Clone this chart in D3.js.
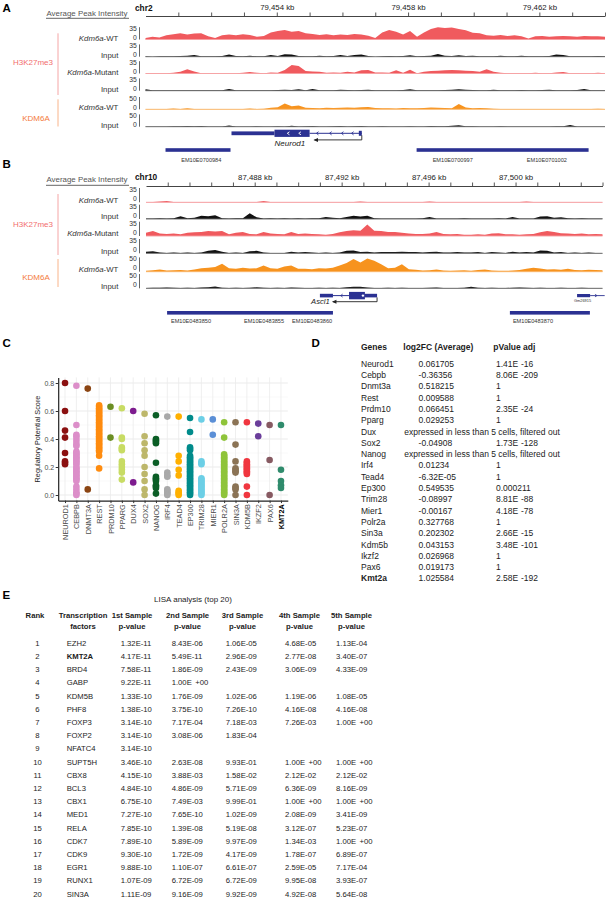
<!DOCTYPE html>
<html><head><meta charset="utf-8">
<script src="https://cdn.jsdelivr.net/npm/d3@7"></script>
<style>
html,body{margin:0;padding:0;background:#fff;}
svg{display:block;font-family:"Liberation Sans",Arial,Helvetica,sans-serif;}
</style></head><body>
<svg id="fig" width="609" height="900"></svg>
<script>
// ================= DATA =================
// ---- Panel A: Neurod1 locus, chr2 (kb) ----
const aDomainKb = [79450, 79464];
const aTickKb = [79451,79452,79453,79454,79455,79456,79457,79458,79459,79460,79461,79462,79463,79464];
const aTickLabelKb = [79454, 79458, 79462];
const aWT_H3K27me3 = [4,8,6,12,15,18,14,17,18,9, 4,12,14,12,15,13,8,10,20,24, 27,22,24,18,16,13,15,12,14,13, 16,14,11,4,20,27,22,14,24,8, 20,30,35,33,34,30,26,19,18,12, 11,13,10,12,9,3,9,10,8,9, 10,9,8,10,9,9,8];
const aWT_Input = [1,0,1,1,1,2,3,5,1,1, 1,2,6,2,1,3,1,1,5,2, 7,6,2,1,1,3,1,2,5,2, 5,6,2,0,1,2,1,2,4,1, 2,3,8,3,2,4,2,3,1,1, 1,3,1,1,3,1,1,1,2,6, 5,1,1,1,1,2,1];
const aMut_H3K27me3 = [1,1,1,1,2,5,12,6,1,1, 1,1,1,1,2,4,2,1,3,2, 10,24,21,7,6,5,2,3,2,5, 3,9,10,3,3,2,9,2,11,1, 5,7,8,9,10,9,8,7,5,12, 5,2,1,1,1,1,2,1,1,3, 4,1,1,1,1,2,1];
const aMut_Input = [4,1,1,1,1,1,1,1,1,1, 1,1,5,1,1,1,1,1,1,2, 3,2,4,1,5,1,1,1,3,2, 1,2,3,1,1,1,1,2,4,1, 1,1,1,2,3,4,3,2,1,1, 3,1,1,1,2,1,1,2,3,1, 1,1,2,5,1,1,1];
const aWT_KDM6A = [1,1,1,1,3,1,4,1,1,1, 1,1,1,1,1,3,1,2,6,8, 24,12,15,6,5,4,6,5,6,7, 6,8,9,5,4,4,3,5,4,4, 5,7,6,5,4,22,7,4,5,4, 2,1,1,1,1,1,1,1,1,1, 1,1,1,1,1,2,1];
const aKDM6A_Input = [1,1,1,1,2,2,3,2,3,1, 1,1,5,1,1,1,2,1,1,2, 1,4,1,2,3,1,1,2,3,1, 2,3,1,1,2,1,1,1,2,1, 1,3,2,2,4,6,2,2,1,1, 1,2,1,1,1,1,1,1,1,2, 2,7,1,1,1,1,1];
const aEnhancersKb = [[79450.61, 79452.59], [79458.26, 79463.5]];
const aEnhancerLabels = ["EM10E0700984", "EM10E0700997", "EM10E0701002"];
const aEnhancerLabelKb = [79451.7, 79459.36, 79462.23];

// ---- Panel B: Ascl1 locus, chr10 (kb) ----
const bDomainKb = [87483, 87504];
const bTickKb = [87484,87485,87486,87487,87488,87489,87490,87491,87492,87493,87494,87495,87496,87497,87498,87499,87500,87501,87502,87503,87504];
const bTickLabelKb = [87488, 87492, 87496, 87500];
const bWT_H3K27me3 = [0.6,0.6,2,3,0.6,0.6,0.6,0.6,0.6,0.6, 0.6,0.6,0.6,0.6,0.6,0.6,0.6,3,0.6,0.6, 0.6,0.6,0.6,0.6,0.6,0.6,0.6,0.6,0.6,0.6, 0.6,2,0.6,0.6,0.6,0.6,0.6,0.6,0.6,0.6, 0.6,2,0.6,0.6,0.6,0.6,0.6,0.6,0.6,0.6, 0.6,0.6,0.6,0.6,0.6,2,0.6,0.6,0.6,0.6, 0.6,0.6,0.6,0.6,0.6,0.6,0.6];
const bWT_Input = [1,1,2,1,2,7,2,3,8,7, 9,2,1,2,2,14,4,1,2,1, 2,1,2,1,2,2,5,3,2,5, 8,6,8,2,1,1,1,1,1,1, 2,5,1,1,1,1,2,1,1,1, 1,2,1,5,1,1,1,6,7,3, 4,2,1,2,1,1,1];
const bMut_H3K27me3 = [8,12,6,5,6,4,8,9,10,12, 11,12,4,8,10,5,4,10,6,5, 4,10,5,6,5,4,3,5,9,12, 14,13,28,13,12,10,10,8,6,5, 5,6,10,5,4,5,3,3,4,3, 6,7,4,4,3,4,5,9,12,10, 7,6,5,6,4,5,4];
const bMut_Input = [4,5,2,1,2,1,2,1,2,6, 8,4,1,2,1,5,6,2,1,1, 1,4,2,3,2,1,2,1,2,6, 7,3,4,2,3,3,3,4,3,3, 2,3,4,2,2,3,2,2,3,1, 3,2,1,4,2,3,2,7,6,2, 3,1,2,1,2,1,1];
const bWT_KDM6A = [3,5,8,4,5,6,4,8,12,14, 16,28,12,10,14,11,12,22,12,10, 18,22,10,10,9,12,11,14,22,30, 44,32,46,38,26,12,14,26,9,7, 4,5,8,4,3,4,5,3,6,8, 4,3,3,4,6,10,14,11,8,9, 7,10,6,5,7,6,5];
const bKDM6A_Input = [1,2,2,3,2,1,2,1,3,4, 6,2,1,2,1,2,4,2,1,2, 1,3,2,1,1,2,1,2,1,4, 5,5,3,1,1,2,1,2,1,1, 1,2,3,1,1,1,2,5,2,1, 2,1,1,2,3,2,1,2,1,1, 2,1,1,2,1,1,1];
const bEnhancersKb = [[87483.97, 87491.6], [87499.74, 87503.42]];
const bEnhancerLabels = ["EM10E0483850", "EM10E0483855", "EM10E0483860", "EM10E0483870"];
const bEnhancerLabelKb = [87485.07, 87488.43, 87490.64, 87500.8];

const trackLabels = [["Kdm6a","-WT"],["","Input"],["Kdm6a","-Mutant"],["","Input"],["Kdm6a","-WT"],["","Input"]];
const trackScaleMax = [35, 35, 35, 35, 50, 50];

// ---- Panel C: regulatory potential scores ----
const tfNames = ["NEUROD1","CEBPB","DNMT3A","REST","PRDM10","PPARG","DUX4","SOX2","NANOG","IRF4","TEAD4","EP300","TRIM28","MIER1","POLR2A","SIN3A","KDM5B","IKZF2","PAX6","KMT2A"];
const rpNEUROD1 = [0.80,0.60,0.46,0.41,0.30,0.24,0.23,0.22];
const rpCEBPB = [0.78,0.50,0.43,0.42,0.40,0.38,0.36,0.35,0.31,0.30,0.29,0.28,0.27,0.26,0.25,0.24,0.23,0.22,0.20,0.19,0.18,0.17,0.16,0.15,0.14,0.13,0.12,0.11,0.10,0.06,0.04,0.02,0.01,0.00];
const rpDNMT3A = [0.76,0.04];
const rpREST = [0.64,0.63,0.62,0.61,0.60,0.59,0.58,0.57,0.56,0.55,0.54,0.53,0.52,0.51,0.50,0.49,0.48,0.47,0.46,0.45,0.44,0.43,0.42,0.41,0.40,0.39,0.38,0.37,0.36,0.35,0.34,0.33,0.32,0.31,0.28,0.19];
const rpPRDM10 = [0.63,0.41];
const rpPPARG = [0.62,0.41,0.40,0.34,0.33,0.32,0.24,0.22,0.20,0.18,0.16,0.11];
const rpDUX4 = [0.60,0.09];
const rpSOX2 = [0.58,0.42,0.37,0.32,0.28,0.20,0.15,0.10,0.04,0.00];
const rpNANOG = [0.57,0.40,0.39,0.38,0.37,0.23,0.13,0.12,0.11,0.10,0.07,0.06,0.05,0.01];
const rpIRF4 = [0.56,0.16,0.14,0.13,0.04,0.03,0.02,0.01,0.00];
const rpTEAD4 = [0.56,0.28,0.24,0.18,0.14,0.03,0.02,0.01,0.00];
const rpEP300 = [0.55,0.45,0.34,0.33,0.32,0.28,0.27,0.26,0.25,0.24,0.23,0.22,0.21,0.20,0.19,0.18,0.17,0.16,0.15,0.14,0.13,0.12,0.11,0.10,0.09,0.08,0.07,0.06,0.05,0.04,0.03,0.02,0.01,0.00];
const rpTRIM28 = [0.54,0.24,0.23,0.22,0.12,0.11,0.10,0.09,0.08,0.07,0.06,0.05,0.04,0.03,0.02,0.01,0.00];
const rpMIER1 = [0.54,0.43];
const rpPOLR2A = [0.52,0.41,0.29,0.28,0.27,0.26,0.25,0.24,0.23,0.22,0.21,0.20,0.19,0.18,0.17,0.16,0.15,0.14,0.13,0.12,0.11,0.10,0.09,0.08,0.07,0.06,0.05,0.04,0.03,0.02,0.01,0.00];
const rpSIN3A = [0.52,0.36,0.24,0.19,0.18,0.17,0.16,0.06,0.05,0.04,0.00];
const rpKDM5B = [0.52,0.24,0.23,0.22,0.21,0.20,0.19,0.18,0.17,0.16,0.15,0.06,0.00];
const rpIKZF2 = [0.51,0.42];
const rpPAX6 = [0.50,0.25,0.00];
const rpKMT2A = [0.50,0.18,0.10,0.07,0.05];
const tfScores = [rpNEUROD1,rpCEBPB,rpDNMT3A,rpREST,rpPRDM10,rpPPARG,rpDUX4,rpSOX2,rpNANOG,rpIRF4,rpTEAD4,rpEP300,rpTRIM28,rpMIER1,rpPOLR2A,rpSIN3A,rpKDM5B,rpIKZF2,rpPAX6,rpKMT2A];
const tfColors = ["#8b1010","#dc8ec9","#8b4513","#ff8c0f","#6b8e23","#c8dc64","#7d1b8e","#bdb76b","#0b5e26","#a9a9a9","#ffb000","#008b8b","#6ccfe6","#5b8fd6","#8fc43a","#8b7355","#f0363f","#6a3d9a","#875a62","#2f8b6c"];
const cYTicks = [0.0, 0.2, 0.4, 0.6, 0.8];

// ---- Panel D: differential expression ----
const dHeaders = ["Genes", "log2FC (Average)", "pValue adj"];
const dGenes = ["Neurod1","Cebpb","Dnmt3a","Rest","Prdm10","Pparg","Dux","Sox2","Nanog","Irf4","Tead4","Ep300","Trim28","Mier1","Polr2a","Sin3a","Kdm5b","Ikzf2","Pax6","Kmt2a"];
const dLog2FC = ["0.061705","-0.36356","0.518215","0.009588","0.066451","0.029253","expressed in less than 5 cells, filtered out","-0.04908","expressed in less than 5 cells, filtered out","0.01234","-6.32E-05","0.549535","-0.08997","-0.00167","0.327768","0.202302","0.043153","0.026968","0.019173","1.025584"];
const dPvalAdj = ["1.41E -16","8.06E -209","1","1","2.35E -24","1","","1.73E -128","","1","1","0.000211","8.81E -88","4.18E -78","1","2.66E -15","3.48E -101","1","1","2.58E -192"];

// ---- Panel E: LISA analysis ----
const eHeader1 = ["Rank","Transcription","1st Sample","2nd Sample","3rd Sample","4th Sample","5th Sample"];
const eHeader2 = ["","factors","p-value","p-value","p-value","p-value","p-value"];
const eTF = ["EZH2","KMT2A","BRD4","GABP","KDM5B","PHF8","FOXP3","FOXP2","NFATC4","SUPT5H","CBX8","BCL3","CBX1","MED1","RELA","CDK7","CDK9","EGR1","RUNX1","SIN3A"];
const eP1 = ["1.32E-11","4.17E-11","7.58E-11","9.22E-11","1.33E-10","1.38E-10","3.14E-10","3.14E-10","3.14E-10","3.46E-10","4.15E-10","4.84E-10","6.75E-10","7.27E-10","7.85E-10","7.89E-10","9.30E-10","9.88E-10","1.07E-09","1.11E-09"];
const eP2 = ["8.43E-06","5.49E-11","1.86E-09","1.00E +00","1.76E-09","3.75E-10","7.17E-04","3.08E-06","","2.63E-08","3.88E-03","4.86E-09","7.49E-03","7.65E-10","1.39E-08","5.89E-09","1.72E-09","1.10E-07","6.72E-09","9.16E-09"];
const eP3 = ["1.06E-05","2.96E-09","2.43E-09","","1.02E-06","7.26E-10","7.18E-03","1.83E-04","","9.93E-01","1.58E-02","5.71E-09","9.99E-01","1.02E-09","5.19E-08","9.97E-09","4.17E-09","6.61E-07","6.72E-09","9.92E-09"];
const eP4 = ["4.68E-05","2.77E-08","3.06E-09","","1.19E-06","4.16E-08","7.26E-03","","","1.00E +00","2.12E-02","6.36E-09","1.00E +00","2.08E-09","3.12E-07","1.34E-03","1.78E-07","2.59E-05","9.95E-08","4.92E-08"];
const eP5 = ["1.13E-04","3.40E-07","4.33E-09","","1.08E-05","4.16E-08","1.00E +00","","","1.00E +00","2.12E-02","8.16E-09","1.00E +00","3.41E-09","5.23E-07","1.00E +00","6.89E-07","7.17E-04","3.93E-07","5.64E-08"];

// ================= DRAWING =================
const svg = d3.select("#fig");
const INK = "#1c1c1c";
const RED = "#f05a5e", RED_LIGHT = "#f59ea0";
const ORANGE = "#f7931e", ORANGE_LIGHT = "#f8b66a";
const BLACK = "#111111";
const NAVY = "#2b3192";

function panelLabel(t, x, y) {
  svg.append("text").attr("x", x).attr("y", y).attr("font-size", 11.5)
    .attr("font-weight", "bold").attr("fill", "#000").text(t);
}

function genomePanel(cfg) {
  const g = svg.append("g");
  const x = d3.scaleLinear().domain(cfg.domain).range(cfg.range);
  g.append("text").attr("x", 46.5).attr("y", cfg.apiY).attr("font-size", 7.9).attr("fill", "#555")
    .text("Average Peak Intensity");
  g.append("line").attr("x1", 46).attr("x2", 129).attr("y1", cfg.apiLineY).attr("y2", cfg.apiLineY)
    .attr("stroke", "#555").attr("stroke-width", 0.9);
  g.append("text").attr("x", 135).attr("y", cfg.chrY).attr("font-size", 8.3).attr("font-weight", "bold")
    .attr("fill", "#111").text(cfg.chr);
  const ax = d3.axisTop(x).tickValues(cfg.ticks).tickSize(3.5).tickSizeOuter(0).tickPadding(2.2)
    .tickFormat(d => cfg.tickLabels.includes(d) ? d3.format(",")(d) + " kb" : "");
  const axG = g.append("g").attr("transform", `translate(0,${cfg.rulerY})`).call(ax);
  axG.select(".domain").attr("stroke", "#444").attr("stroke-width", 1.1);
  axG.selectAll(".tick line").attr("stroke", "#444").attr("stroke-width", 0.9);
  axG.selectAll(".tick text").attr("font-size", 7.8).attr("fill", "#222")
    .attr("font-family", '"Liberation Sans",Arial,sans-serif');
  cfg.tracks.forEach((t, k) => {
    const n = t.values.length;
    const step = (cfg.domain[1] - cfg.domain[0]) / (n - 1);
    const y = d3.scaleLinear().domain([0, trackScaleMax[k]]).range([t.base, t.base - cfg.h]);
    const area = d3.area().x((d, i) => x(cfg.domain[0] + i * step)).y0(t.base).y1(d => y(d));
    g.append("path").datum(t.values).attr("d", area).attr("fill", t.color);
    g.append("line").attr("x1", cfg.range[0]).attr("x2", cfg.range[1]).attr("y1", t.base).attr("y2", t.base)
      .attr("stroke", t.baseColor).attr("stroke-width", 0.9);
    g.append("line").attr("x1", 139.5).attr("x2", 139.5).attr("y1", t.base - cfg.h).attr("y2", t.base)
      .attr("stroke", "#666").attr("stroke-width", 1);
    g.append("text").attr("x", 136.8).attr("y", t.base - cfg.h + 3.9).attr("font-size", 6.8)
      .attr("text-anchor", "end").attr("fill", "#333").text(trackScaleMax[k]);
    g.append("text").attr("x", 136.8).attr("y", t.base + cfg.zeroDy).attr("font-size", 6.8)
      .attr("text-anchor", "end").attr("fill", "#333").text("0");
    const lab = g.append("text").attr("x", 118.3).attr("y", t.base + cfg.labelDy).attr("font-size", 7.8)
      .attr("text-anchor", "end").attr("fill", "#333");
    if (trackLabels[k][0]) lab.append("tspan").attr("font-style", "italic").text(trackLabels[k][0]);
    lab.append("tspan").text(trackLabels[k][1]);
  });
  g.append("text").attr("x", 33).attr("y", cfg.h3Y).attr("font-size", 8).attr("text-anchor", "middle")
    .attr("fill", "#f26d6d").text("H3K27me3");
  g.append("line").attr("x1", 58).attr("x2", 58).attr("y1", cfg.h3Br[0]).attr("y2", cfg.h3Br[1])
    .attr("stroke", "#f5a6a6").attr("stroke-width", 1);
  g.append("text").attr("x", 36).attr("y", cfg.kdY).attr("font-size", 8).attr("text-anchor", "middle")
    .attr("fill", "#f47a3c").text("KDM6A");
  g.append("line").attr("x1", 58).attr("x2", 58).attr("y1", cfg.kdBr[0]).attr("y2", cfg.kdBr[1])
    .attr("stroke", "#f9b48a").attr("stroke-width", 1);
  cfg.enh.forEach(e => {
    g.append("rect").attr("x", x(e[0])).attr("width", x(e[1]) - x(e[0])).attr("y", cfg.enhY).attr("height", 3.6)
      .attr("fill", NAVY);
  });
  cfg.enhLabels.forEach((l, i) => {
    g.append("text").attr("x", x(cfg.enhLabelKb[i])).attr("y", cfg.enhLabelY).attr("font-size", 5.6)
      .attr("text-anchor", "middle").attr("fill", "#333").text(l);
  });
  return { g, x };
}

// ---------- Panel A ----------
panelLabel("A", 2.5, 11.8);
const A = genomePanel({
  domain: aDomainKb, range: [145.5, 605], ticks: aTickKb, tickLabels: aTickLabelKb,
  chr: "chr2", chrY: 10.8, rulerY: 16, apiY: 15.6, apiLineY: 18.3, h: 12.3, labelDy: 1.0, zeroDy: 0.6,
  tracks: [
    { values: aWT_H3K27me3, base: 39.5, color: RED, baseColor: RED_LIGHT },
    { values: aWT_Input, base: 56.7, color: BLACK, baseColor: "#666" },
    { values: aMut_H3K27me3, base: 73.5, color: RED, baseColor: RED_LIGHT },
    { values: aMut_Input, base: 90.7, color: BLACK, baseColor: "#666" },
    { values: aWT_KDM6A, base: 109.3, color: ORANGE, baseColor: ORANGE_LIGHT },
    { values: aKDM6A_Input, base: 126.7, color: BLACK, baseColor: "#666" }
  ],
  h3Y: 65, h3Br: [33.3, 95], kdY: 121, kdBr: [99.3, 126.5],
  enh: aEnhancersKb, enhY: 148.2, enhLabels: aEnhancerLabels, enhLabelKb: aEnhancerLabelKb, enhLabelY: 161.5
});
(function () {
  const g = A.g, x = A.x, yc = 133.3;
  g.append("rect").attr("x", x(79452.62)).attr("width", x(79453.93) - x(79452.62)).attr("y", yc - 1.9).attr("height", 3.8).attr("fill", NAVY);
  g.append("rect").attr("x", x(79453.93)).attr("width", x(79455.0) - x(79453.93)).attr("y", yc - 3.6).attr("height", 7.2).attr("fill", NAVY);
  g.append("line").attr("x1", x(79455.0)).attr("x2", x(79456.59)).attr("y1", yc).attr("y2", yc).attr("stroke", NAVY).attr("stroke-width", 1);
  [79455.24, 79455.64, 79456.0, 79456.31].forEach(k => {
    g.append("path").attr("d", `M${x(k) + 1},${yc - 1.6}L${x(k) - 1},${yc}L${x(k) + 1},${yc + 1.6}`).attr("fill", "none").attr("stroke", NAVY).attr("stroke-width", 0.9);
  });
  g.append("rect").attr("x", x(79456.5)).attr("width", x(79456.59) - x(79456.5)).attr("y", yc - 2.5).attr("height", 5).attr("fill", NAVY);
  [79454.35, 79454.7].forEach(k => {
    g.append("path").attr("d", `M${x(k) + 1.2},${yc - 1.5}L${x(k) - 1},${yc}L${x(k) + 1.2},${yc + 1.5}`).attr("fill", "none").attr("stroke", "#fff").attr("stroke-width", 0.9);
  });
  const xs = x(79456.59), xe = x(79455.15);
  g.append("path").attr("d", `M${xs},${yc + 2}L${xs},${yc + 6.6}L${xe},${yc + 6.6}`).attr("fill", "none").attr("stroke", "#222").attr("stroke-width", 0.9);
  g.append("path").attr("d", `M${xe - 1},${yc + 6.6}L${xe + 3.5},${yc + 4.6}L${xe + 3.5},${yc + 8.6}Z`).attr("fill", "#222");
  g.append("text").attr("x", x(79454.4)).attr("y", 146).attr("font-size", 8).attr("font-style", "italic").attr("text-anchor", "middle").attr("fill", "#222").text("Neurod1");
})();

// ---------- Panel B ----------
panelLabel("B", 2.5, 167.8);
const B = genomePanel({
  domain: bDomainKb, range: [146, 602.5], ticks: bTickKb, tickLabels: bTickLabelKb,
  chr: "chr10", chrY: 180.2, rulerY: 186, apiY: 182.3, apiLineY: 185.3, h: 14.3, labelDy: 0.2, zeroDy: -1.4,
  tracks: [
    { values: bWT_H3K27me3, base: 202.3, color: RED, baseColor: RED_LIGHT },
    { values: bWT_Input, base: 219, color: BLACK, baseColor: "#666" },
    { values: bMut_H3K27me3, base: 236, color: RED, baseColor: RED_LIGHT },
    { values: bMut_Input, base: 253.3, color: BLACK, baseColor: "#666" },
    { values: bWT_KDM6A, base: 271.7, color: ORANGE, baseColor: ORANGE_LIGHT },
    { values: bKDM6A_Input, base: 288.3, color: BLACK, baseColor: "#666" }
  ],
  h3Y: 226.7, h3Br: [194, 255], kdY: 280, kdBr: [259, 287],
  enh: bEnhancersKb, enhY: 311, enhLabels: bEnhancerLabels, enhLabelKb: bEnhancerLabelKb, enhLabelY: 322.5
});
(function () {
  const g = B.g, x = B.x, yc = 295.6;
  g.append("rect").attr("x", x(87491.0)).attr("width", x(87491.6) - x(87491.0)).attr("y", yc - 1.8).attr("height", 3.6).attr("fill", NAVY);
  g.append("line").attr("x1", x(87491.6)).attr("x2", x(87492.34)).attr("y1", yc).attr("y2", yc).attr("stroke", NAVY).attr("stroke-width", 1);
  g.append("path").attr("d", `M${x(87492.0) + 1},${yc - 1.5}L${x(87492.0) - 1},${yc}L${x(87492.0) + 1},${yc + 1.5}`).attr("fill", "none").attr("stroke", NAVY).attr("stroke-width", 0.8);
  g.append("rect").attr("x", x(87492.34)).attr("width", x(87493.07) - x(87492.34)).attr("y", yc - 3.7).attr("height", 7.4).attr("fill", NAVY);
  g.append("rect").attr("x", x(87493.07)).attr("width", x(87493.63) - x(87493.07)).attr("y", yc - 1.8).attr("height", 3.6).attr("fill", NAVY);
  g.append("circle").attr("cx", x(87492.98)).attr("cy", yc).attr("r", 1.2).attr("fill", "#fff");
  const xs = x(87493.63), xe = x(87491.6), ya = 301.7;
  g.append("path").attr("d", `M${xs},${yc + 1.8}L${xs},${ya}L${xe},${ya}`).attr("fill", "none").attr("stroke", "#222").attr("stroke-width", 0.9);
  g.append("path").attr("d", `M${xe - 1},${ya}L${xe + 3.5},${ya - 2}L${xe + 3.5},${ya + 2}Z`).attr("fill", "#222");
  g.append("text").attr("x", x(87491.45)).attr("y", 304.3).attr("font-size", 7.6).attr("font-style", "italic").attr("text-anchor", "end").attr("fill", "#222").text("Ascl1");
  g.append("rect").attr("x", x(87502.83)).attr("width", x(87503.43) - x(87502.83)).attr("y", yc - 1.6).attr("height", 3.2).attr("fill", NAVY);
  g.append("line").attr("x1", x(87503.43)).attr("x2", x(87504.1)).attr("y1", yc).attr("y2", yc).attr("stroke", NAVY).attr("stroke-width", 0.9);
  g.append("path").attr("d", `M${x(87503.7) - 1},${yc - 1.3}L${x(87503.7) + 1},${yc}L${x(87503.7) - 1},${yc + 1.3}`).attr("fill", "none").attr("stroke", NAVY).attr("stroke-width", 0.8);
  g.append("text").attr("x", x(87503.08)).attr("y", 301.5).attr("font-size", 3.9).attr("text-anchor", "middle").attr("fill", "#333").text("Gm26915");
})();

// ---------- Panel C ----------
panelLabel("C", 2.5, 346.8);
(function () {
  const g = svg.append("g");
  const cx = d3.scalePoint().domain(tfNames).range([58.2, 287.8]).padding(0.6);
  const cy = d3.scaleLinear().domain([-0.04, 0.84]).range([500.6, 377.4]);
  [0.1, 0.3, 0.5, 0.7].forEach(v => g.append("line").attr("x1", 58.2).attr("x2", 287.8).attr("y1", cy(v)).attr("y2", cy(v)).attr("stroke", "#f3f3f3").attr("stroke-width", 0.5));
  cYTicks.forEach(v => g.append("line").attr("x1", 58.2).attr("x2", 287.8).attr("y1", cy(v)).attr("y2", cy(v)).attr("stroke", "#e6e6e6").attr("stroke-width", 0.8));
  tfNames.forEach(n => g.append("line").attr("x1", cx(n)).attr("x2", cx(n)).attr("y1", 377.4).attr("y2", 500.6).attr("stroke", "#ebebeb").attr("stroke-width", 0.8));
  tfNames.forEach((n, i) => {
    g.selectAll(null).data(tfScores[i]).enter().append("circle")
      .attr("cx", cx(n)).attr("cy", d => cy(d)).attr("r", 3.3).attr("fill", tfColors[i]);
  });
  const yAx = g.append("g").attr("transform", "translate(58.2,0)")
    .call(d3.axisLeft(cy).tickValues(cYTicks).tickFormat(d3.format(".1f")).tickSize(2.5).tickSizeOuter(0).tickPadding(1.5));
  yAx.select(".domain").attr("stroke", "#222").attr("stroke-width", 1.2);
  yAx.selectAll(".tick line").attr("stroke", "#333");
  yAx.selectAll(".tick text").attr("font-size", 7).attr("fill", "#4d4d4d").attr("font-family", '"Liberation Sans",Arial,sans-serif');
  const xAx = g.append("g").attr("transform", "translate(0,500.6)")
    .call(d3.axisBottom(cx).tickSize(2.5).tickSizeOuter(0));
  xAx.select(".domain").attr("stroke", "#222").attr("stroke-width", 1.2);
  xAx.selectAll(".tick line").attr("stroke", "#333");
  xAx.selectAll(".tick text").attr("transform", "rotate(-90)").attr("x", -3.6).attr("y", 0).attr("dy", "0.35em")
    .attr("text-anchor", "end").attr("font-size", 7.3)
    .attr("font-family", '"Liberation Sans",Arial,sans-serif')
    .attr("font-weight", d => d === "KMT2A" ? "bold" : null)
    .attr("fill", d => d === "KMT2A" ? "#000" : "#4d4d4d");
  g.append("text").attr("transform", "translate(39.5,439) rotate(-90)").attr("text-anchor", "middle")
    .attr("font-size", 7.3).attr("fill", "#222").text("Regulatory Potential Score");
})();

// ---------- Panel D ----------
panelLabel("D", 311.5, 346.8);
(function () {
  const g = svg.append("g").attr("font-size", 8.5).attr("fill", INK);
  const hx = [361, 403.3, 493.3];
  dHeaders.forEach((h, i) => g.append("text").attr("x", hx[i]).attr("y", 349.5).attr("font-weight", "bold").text(h));
  dGenes.forEach((gene, i) => {
    const y = 366.7 + i * 11.3;
    const bold = gene === "Kmt2a" ? "bold" : null;
    g.append("text").attr("x", 361).attr("y", y).attr("font-weight", bold).text(gene);
    const fc = dLog2FC[i];
    g.append("text").attr("x", fc.startsWith("expressed") ? 404.3 : 418.6).attr("y", y).text(fc);
    const p = dPvalAdj[i];
    if (p) {
      const parts = p.split(" ");
      g.append("text").attr("x", 496).attr("y", y).text(parts[0]);
      if (parts[1]) g.append("text").attr("x", 521).attr("y", y).text(parts[1]);
    }
  });
})();

// ---------- Panel E ----------
panelLabel("E", 2.5, 599);
(function () {
  const g = svg.append("g").attr("font-size", 7.7).attr("fill", INK);
  g.append("text").attr("x", 193).attr("y", 602).attr("text-anchor", "middle").attr("font-size", 8)
    .attr("font-weight", 500).text("LISA analysis (top 20)");
  const hc = [35, 83, 132, 187.5, 242.5, 299.5, 351.5];
  eHeader1.forEach((h, i) => g.append("text").attr("x", hc[i]).attr("y", 618.2).attr("text-anchor", "middle").attr("font-weight", "bold").text(h));
  eHeader2.forEach((h, i) => { if (h) g.append("text").attr("x", hc[i]).attr("y", 629.2).attr("text-anchor", "middle").attr("font-weight", "bold").text(h); });
  const colX = [120.7, 171.7, 225.7, 285, 336];
  const cols = [eP1, eP2, eP3, eP4, eP5];
  eTF.forEach((tf, i) => {
    const y = 645.8 + i * 13.2;
    g.append("text").attr("x", 37.5).attr("y", y).attr("text-anchor", "middle").text(i + 1);
    g.append("text").attr("x", 66.7).attr("y", y).attr("font-weight", tf === "KMT2A" ? "bold" : null).text(tf);
    cols.forEach((col, c) => {
      const v = col[i];
      if (!v) return;
      const parts = v.split(" ");
      g.append("text").attr("x", colX[c]).attr("y", y).text(parts[0]);
      if (parts[1]) g.append("text").attr("x", colX[c] + 23.5).attr("y", y).text(parts[1]);
    });
  });
})();
</script>
</body></html>
